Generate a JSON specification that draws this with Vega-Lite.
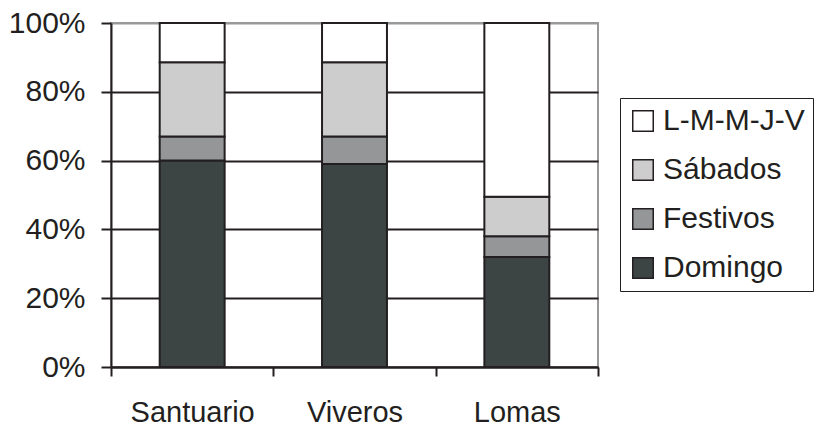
{
  "$schema": "https://vega.github.io/schema/vega-lite/v6.json",
  "width": 487,
  "height": 344,
  "autosize": {"type": "none"},
  "padding": {"left": 111, "top": 23, "right": 219, "bottom": 61},
  "background": "white",
  "config": {
    "font": "Liberation Sans",
    "view": {"stroke": "#999999", "strokeWidth": 2}
  },
  "data": {
    "values": [
      {"lugar": "Santuario", "tipo": "Domingo", "orden": 1, "pct": 60},
      {"lugar": "Santuario", "tipo": "Festivos", "orden": 2, "pct": 7},
      {"lugar": "Santuario", "tipo": "Sábados", "orden": 3, "pct": 21.6},
      {"lugar": "Santuario", "tipo": "L-M-M-J-V", "orden": 4, "pct": 11.4},
      {"lugar": "Viveros", "tipo": "Domingo", "orden": 1, "pct": 59},
      {"lugar": "Viveros", "tipo": "Festivos", "orden": 2, "pct": 8},
      {"lugar": "Viveros", "tipo": "Sábados", "orden": 3, "pct": 21.6},
      {"lugar": "Viveros", "tipo": "L-M-M-J-V", "orden": 4, "pct": 11.4},
      {"lugar": "Lomas", "tipo": "Domingo", "orden": 1, "pct": 32},
      {"lugar": "Lomas", "tipo": "Festivos", "orden": 2, "pct": 6},
      {"lugar": "Lomas", "tipo": "Sábados", "orden": 3, "pct": 11.5},
      {"lugar": "Lomas", "tipo": "L-M-M-J-V", "orden": 4, "pct": 50.5}
    ]
  },
  "mark": {"type": "bar", "stroke": "#231f20", "strokeWidth": 2, "width": {"band": 0.4}},
  "encoding": {
    "x": {
      "field": "lugar",
      "type": "nominal",
      "sort": ["Santuario", "Viveros", "Lomas"],
      "scale": {"paddingInner": 0, "paddingOuter": 0},
      "axis": {
        "title": null,
        "labelAngle": 0,
        "labelFontSize": 29,
        "labelColor": "#231f20",
        "labelPadding": 22,
        "tickBand": "extent",
        "tickSize": 9,
        "tickColor": "#231f20",
        "tickWidth": 2,
        "domainColor": "#231f20",
        "domainWidth": 2
      }
    },
    "y": {
      "field": "pct",
      "type": "quantitative",
      "stack": "zero",
      "scale": {"domain": [0, 100], "nice": false},
      "axis": {
        "title": null,
        "values": [0, 20, 40, 60, 80, 100],
        "labelExpr": "datum.value + '%'",
        "labelFontSize": 30,
        "labelColor": "#231f20",
        "labelPadding": 16,
        "tickSize": 10,
        "tickColor": "#231f20",
        "tickWidth": 2,
        "domainColor": "#231f20",
        "domainWidth": 2,
        "grid": true,
        "gridColor": {"condition": {"test": "datum.value == 100", "value": "#999999"}, "value": "#231f20"},
        "gridWidth": 2,
        "gridOpacity": 1
      }
    },
    "color": {
      "field": "tipo",
      "type": "nominal",
      "scale": {
        "domain": ["L-M-M-J-V", "Sábados", "Festivos", "Domingo"],
        "range": ["#ffffff", "#cdcdcd", "#959697", "#3c4544"]
      },
      "legend": {
        "title": null,
        "orient": "none",
        "legendX": 509,
        "legendY": 75,
        "strokeColor": "#231f20",
        "fillColor": "white",
        "padding": 8,
        "symbolType": "square",
        "symbolSize": 420,
        "symbolStrokeColor": "#231f20",
        "symbolStrokeWidth": 1.5,
        "labelFontSize": 30,
        "labelColor": "#231f20",
        "labelOffset": 5,
        "rowPadding": 19,
        "labelLimit": 300
      }
    },
    "order": {"field": "orden", "type": "quantitative", "sort": "ascending"}
  }
}
